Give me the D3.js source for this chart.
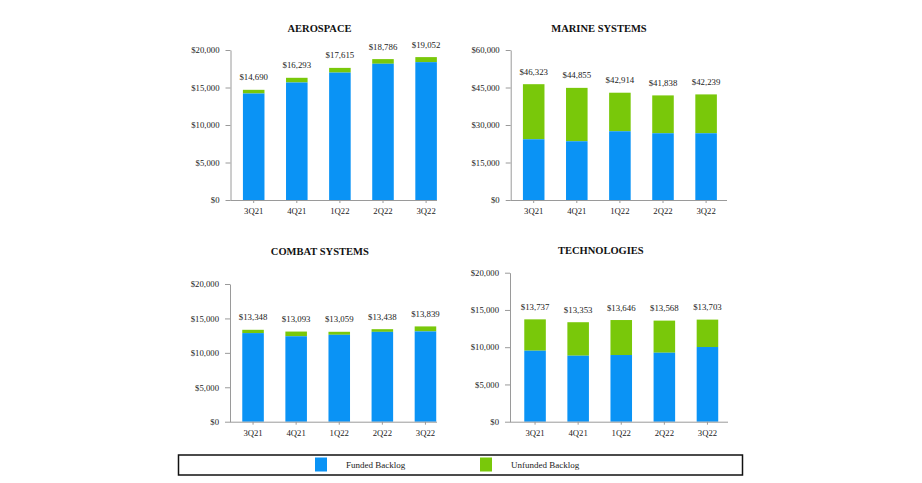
<!DOCTYPE html>
<html><head><meta charset="utf-8">
<script src="https://cdn.jsdelivr.net/npm/d3@7"></script>
<style>
html,body{margin:0;padding:0;background:#fff;}
svg{display:block;font-family:"Liberation Serif","Times New Roman",serif;}
</style></head>
<body><svg id="c" width="922" height="483"></svg>
<script>
const quarters = ["3Q21","4Q21","1Q22","2Q22","3Q22"];
const aerospaceTotal  = [14690,16293,17615,18786,19052];
const aerospaceFunded = [14200,15670,16990,18166,18380];
const marineTotal  = [46323,44855,42914,41838,42239];
const marineFunded = [24300,23500,27500,26700,26700];
const combatTotal  = [13348,13093,13059,13438,13839];
const combatFunded = [12870,12410,12625,13050,13115];
const techTotal  = [13737,13353,13646,13568,13703];
const techFunded = [9530,8860,8950,9260,10025];
const aerospaceTicks = [0,5000,10000,15000,20000];
const marineTicks = [0,15000,30000,45000,60000];
const combatTicks = [0,5000,10000,15000,20000];
const techTicks = [0,5000,10000,15000,20000];
const seriesNames = ["Funded Backlog","Unfunded Backlog"];

const BLUE = "#0a93f5", GREEN = "#79c80a", AXIS = "#9a9a9a", TXT = "#222";
const svg = d3.select("#c");
const fmt = v => "$" + d3.format(",")(v);

const panels = [
  {title:"AEROSPACE", total:aerospaceTotal, funded:aerospaceFunded, ticks:aerospaceTicks,
   yAx:230.5, xEnd:437, band:[232.15,447.65], y:[200,50], titleX:319.5, titleY:32.3},
  {title:"MARINE SYSTEMS", total:marineTotal, funded:marineFunded, ticks:marineTicks,
   yAx:510.7, xEnd:727, band:[512.15,727.65], y:[200,50], titleX:599, titleY:32.3},
  {title:"COMBAT SYSTEMS", total:combatTotal, funded:combatFunded, ticks:combatTicks,
   yAx:230, xEnd:437, band:[231.5,447], y:[421.7,284], titleX:319.8, titleY:254.6},
  {title:"TECHNOLOGIES", total:techTotal, funded:techFunded, ticks:techTicks,
   yAx:510, xEnd:728, band:[513.5,729], y:[421.7,272.7], titleX:600.8, titleY:254.4}
];

panels.forEach(p => {
  const g = svg.append("g");
  const x = d3.scaleBand().domain(quarters).range(p.band).paddingInner(0.5).paddingOuter(0.25);
  const y = d3.scaleLinear().domain([0, d3.max(p.ticks)]).range(p.y);

  g.append("text").attr("x", p.titleX).attr("y", p.titleY).attr("text-anchor","middle")
    .attr("font-weight","bold").attr("font-size","10.5px").attr("fill","#111").text(p.title);

  // y axis
  const ya = g.append("g").attr("transform",`translate(${p.yAx},0)`)
    .call(d3.axisLeft(y).tickValues(p.ticks).tickFormat(fmt).tickSize(5).tickSizeOuter(0).tickPadding(6));
  ya.select(".domain").attr("stroke",AXIS);
  ya.selectAll(".tick line").attr("stroke",AXIS);
  ya.selectAll("text").attr("font-size","8.7px").attr("fill",TXT).attr("font-family","Liberation Serif");

  // bars
  const data = quarters.map((q,i)=>({q, funded:p.funded[i], total:p.total[i]}));
  g.selectAll(".u").data(data).enter().append("rect")
    .attr("x", d=>x(d.q)).attr("width", x.bandwidth())
    .attr("y", d=>y(d.total)).attr("height", d=>y(d.funded)-y(d.total)).attr("fill",GREEN);
  g.selectAll(".f").data(data).enter().append("rect")
    .attr("x", d=>x(d.q)).attr("width", x.bandwidth())
    .attr("y", d=>y(d.funded)).attr("height", d=>y(0)-y(d.funded)).attr("fill",BLUE);
  g.selectAll(".v").data(data).enter().append("text")
    .attr("x", d=>x(d.q)+x.bandwidth()/2).attr("y", d=>y(d.total)-9.5)
    .attr("text-anchor","middle").attr("font-size","8.8px").attr("fill",TXT).text(d=>fmt(d.total));

  // x axis
  const xa = g.append("g").attr("transform",`translate(0,${y(0)})`)
    .call(d3.axisBottom(x).tickSize(3).tickSizeOuter(0).tickPadding(5));
  xa.select(".domain").remove();
  xa.selectAll(".tick line").attr("stroke",AXIS);
  xa.selectAll("text").attr("font-size","8.7px").attr("fill",TXT).attr("font-family","Liberation Serif");
  g.append("line").attr("x1",p.yAx).attr("x2",p.xEnd).attr("y1",y(0)+0.5).attr("y2",y(0)+0.5)
    .attr("stroke",AXIS);
});

// legend
const lg = svg.append("g");
lg.append("rect").attr("x",178.5).attr("y",455).attr("width",564).attr("height",20)
  .attr("fill","none").attr("stroke","#111").attr("stroke-width",1.5);
const legX = [315, 480];
const legCol = [BLUE, GREEN];
seriesNames.forEach((n,i)=>{
  lg.append("rect").attr("x",legX[i]).attr("y",457.5).attr("width",12).attr("height",14).attr("fill",legCol[i]);
  lg.append("text").attr("x",legX[i]+31).attr("y",468).attr("font-size","9px").attr("fill",TXT).text(n);
});
</script></body></html>
